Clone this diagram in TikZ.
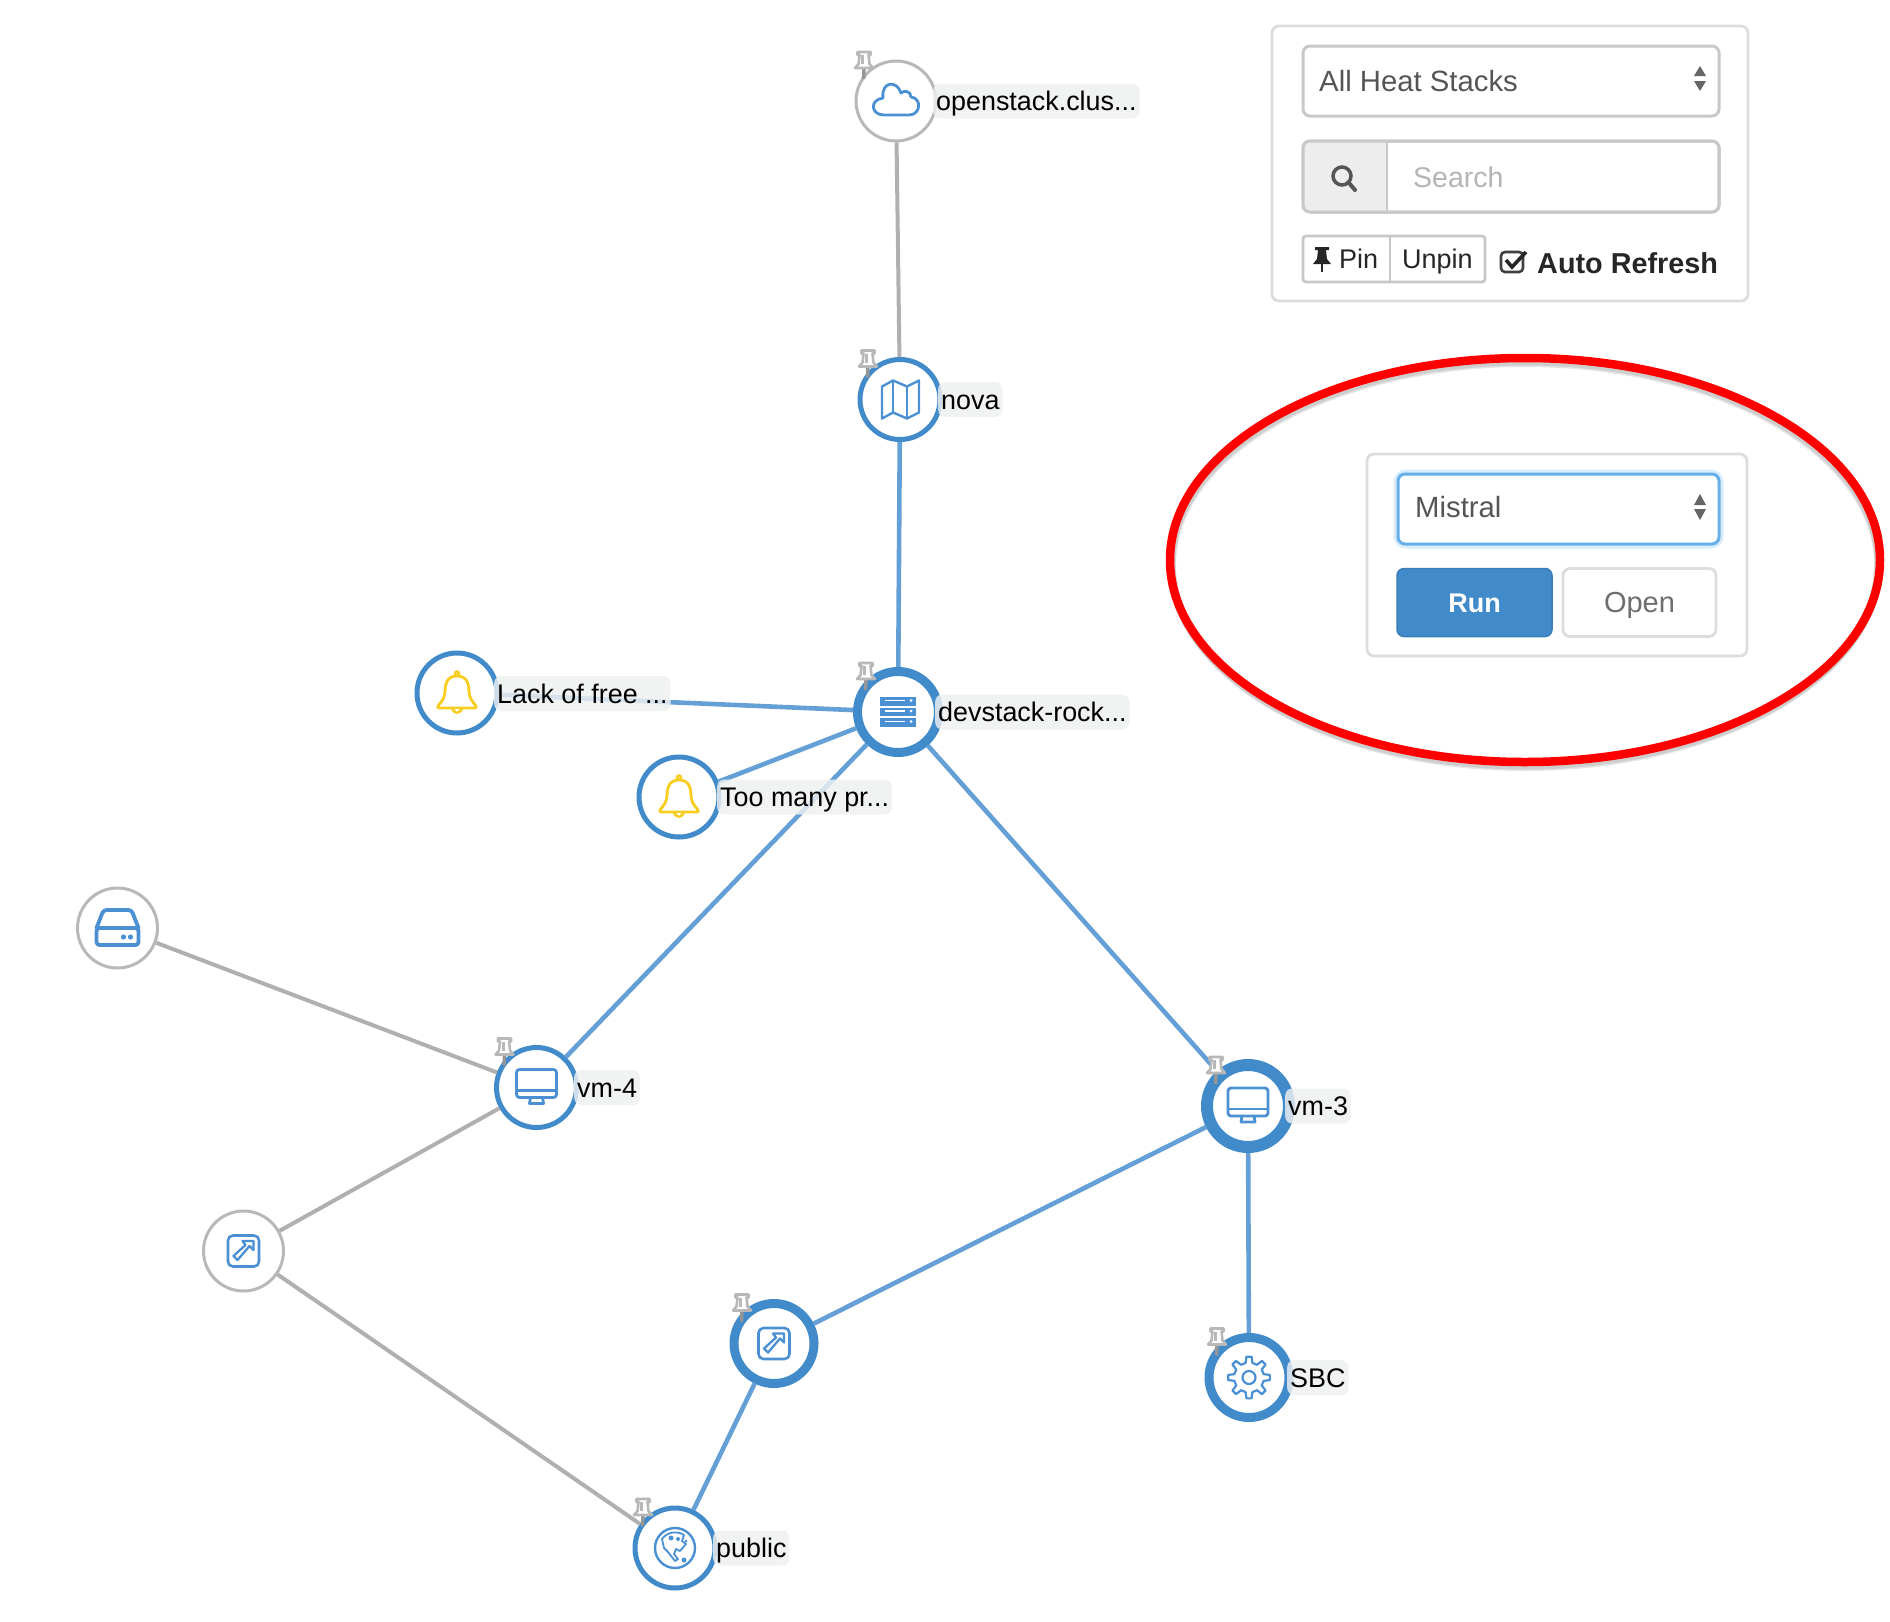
\documentclass[tikz,border=0pt]{standalone}
\usepackage{fontspec}
\setmainfont{Liberation Sans}
\usetikzlibrary{shapes.geometric}
\definecolor{ringblue}{HTML}{428BCA}
\definecolor{edgeblue}{HTML}{64A0D6}
\definecolor{edgegray}{HTML}{B0B0B0}
\definecolor{ringgray}{HTML}{B8B8B8}
\definecolor{iconblue}{HTML}{4A90D2}
\definecolor{bellyellow}{HTML}{F8CE1E}
\definecolor{labelbg}{HTML}{EEF0F0}
\definecolor{uiborder}{HTML}{C8C8C8}
\definecolor{panelborder}{HTML}{DDDDDD}
\definecolor{uitext}{HTML}{555555}
\definecolor{placeholder}{HTML}{B5B5B5}
\definecolor{runblue}{HTML}{428BCA}
\definecolor{focusblue}{HTML}{66AFE9}
\definecolor{glowblue}{HTML}{D9ECFB}
\definecolor{markred}{HTML}{FF0000}
\newcommand\fpx[1]{\fontsize{#1}{#1}\selectfont}
\tikzset{
  netnode/.style={circle,fill=white,inner sep=0pt},
  ringgrey/.style={netnode,draw=ringgray,line width=3pt,minimum size=80pt},
  ringthin/.style={netnode,draw=ringblue,line width=5pt,minimum size=80pt},
  ringmid/.style={netnode,draw=ringblue,line width=#1,minimum size=80pt},
  linkblue/.style={draw=edgeblue,line width=4.6pt},
  linkgrey/.style={draw=edgegray,line width=4pt},
  netlabel/.style={anchor=west,fill=labelbg,fill opacity=.82,text opacity=1,rounded corners=7pt,
    inner xsep=3pt,inner ysep=0pt,minimum height=35pt,text height=19.3pt,text depth=0pt,text=black,font=\fpx{26.9}},
  icon/.style={draw=iconblue,line width=2.8pt,line join=round,line cap=round},
  uibox/.style={draw=uiborder,line width=3pt,rounded corners=7pt,fill=white},
  uitextnode/.style={anchor=west,inner sep=0pt,text height=20pt,text depth=0pt},
}
\newcommand\pinat[1]{\begin{scope}[shift={(#1.center)},xshift=-32pt,yshift=36pt]
  \draw[edgegray!85!black,line width=3.4pt] (0,3)--(-.5,14);
  \draw[ringgray,fill=white,line width=2.6pt,line join=round] (-6.5,-13)--(6.5,-13)--(6.5,-10)--(4.5,-10)--(5.5,-1)--(9,3)--(-9,3)--(-5.5,-1)--(-4.5,-10)--(-6.5,-10)--cycle;
  \draw[ringgray,line width=3pt] (-1.5,-10)--(-1.5,-1);
\end{scope}}
\newcommand\iconmonitor[1]{\begin{scope}[shift={(#1.center)}]
  \draw[icon,rounded corners=3pt] (-20,-18) rectangle (20,10);
  \draw[icon] (-20,3)--(20,3);
  \draw[icon] (-6,10)--(-7,16)--(7,16)--(6,10);
\end{scope}}
\newcommand\iconserver[1]{\begin{scope}[shift={(#1.center)}]
  \foreach \yy in {-15,-4.5,6}{
    \fill[iconblue] (-18,\yy) rectangle (18,\yy+8.5);
    \draw[white,line width=1.6pt] (-13,\yy+3.5)--(7,\yy+3.5);
    \fill[white] (13,\yy+3.5) circle (1.5);
  }
\end{scope}}
\newcommand\iconmap[1]{\begin{scope}[shift={(#1.center)}]
  \draw[icon,line width=2.4pt] (-18,-13)--(-7,-19)--(7,-13)--(19,-19)--(19,13)--(7,19)--(-7,13)--(-18,19)--cycle;
  \draw[icon,line width=2.4pt] (-7,-19)--(-7,13) (7,-13)--(7,19);
\end{scope}}
\newcommand\iconcloud[1]{\begin{scope}[shift={(#1.center)}]
  \draw[icon] (-12,14)--(13,14) .. controls (25,14) and (26,-3) .. (15,-4) .. controls (15,-10) and (8,-11) .. (5,-8) .. controls (1,-21) and (-15,-20) .. (-13,-3) .. controls (-27,-1) and (-25,14) .. (-12,14) -- cycle;
\end{scope}}
\newcommand\iconbell[1]{\begin{scope}[shift={(#1.center)}]
  \draw[draw=bellyellow,line width=2.8pt,line join=round,line cap=round]
    (0,-17) .. controls (-10,-17) and (-12,-9) .. (-12,-2) .. controls (-12,5) and (-15,8) .. (-19,13)
    .. controls (-20,15) and (-19,15) .. (-17,15) -- (17,15) .. controls (19,15) and (20,15) .. (19,13)
    .. controls (15,8) and (12,5) .. (12,-2) .. controls (12,-9) and (10,-17) .. (0,-17) -- cycle;
  \draw[draw=bellyellow,line width=2.5pt] (0,-19.5) circle (2);
  \fill[bellyellow] (-6,15) .. controls (-5,23) and (5,23) .. (6,15) -- cycle;
  \fill[white] (-3,16) -- (3,16) -- (0,18.5) -- cycle;
\end{scope}}
\newcommand\icondisk[1]{\begin{scope}[shift={(#1.center)}]
  \draw[icon,line width=3.8pt,rounded corners=3pt] (-21,0) rectangle (21,17);
  \draw[icon,line width=3.8pt,rounded corners=3pt] (-21,0)--(-14,-18)--(14,-18)--(21,0);
  \fill[iconblue] (6,9) circle (2.6) (13,9) circle (2.6);
\end{scope}}
\newcommand\iconlink[1]{\begin{scope}[shift={(#1.center)}]
  \draw[icon,line width=2.6pt,rounded corners=5pt] (-15.5,-15.5) rectangle (15.5,15.5);
  \draw[icon,line width=2.3pt] (10,-10)--(10,-1)--(6,-5)--(-6,9)--(-10,5)--(2,-6)--(-1,-10)--cycle;
\end{scope}}
\newcommand\icongear[1]{\begin{scope}[shift={(#1.center)}]
  \draw[icon,line width=2.2pt] (-13:15) \foreach \aa in {0,45,...,315}{ -- (\aa-13:15) -- (\aa-7:21) -- (\aa+7:21) -- (\aa+13:15)} -- cycle;
  \draw[icon,line width=2.2pt] (0,0) circle (6.5);
\end{scope}}
\newcommand\iconglobe[1]{\begin{scope}[shift={(#1.center)}]
  \draw[icon,line width=2.4pt] (0,0) circle (20);
  \draw[icon,line width=1.8pt] (-13,-9) .. controls (-7,-17) and (3,-17) .. (9,-13) -- (7,-7) -- (11,-4) -- (5,3) -- (1,1) -- (-1,6) -- (3,11) -- (0,13) -- (-7,4) -- (-11,0) -- cycle;
  \fill[iconblue] (-4,-10) circle (2.5) (3,-9) circle (2) (9,12) circle (2.5) (11,-7) circle (1.5);
\end{scope}}
\begin{document}
\begin{tikzpicture}[x=1pt,y=-1pt]
\useasboundingbox (0,0) rectangle (1890,1622);
% network nodes
\node[ringgrey] (openstack) at (896,101) {};
\node[ringthin] (nova) at (900,399.5) {};
\node[ringmid=9pt,minimum size=81pt] (devstack) at (898,712) {};
\node[ringthin] (lack) at (457,693) {};
\node[ringthin] (toomany) at (679,797) {};
\node[ringgrey] (disk) at (117.5,928) {};
\node[ringthin] (vmfour) at (536.5,1087.5) {};
\node[ringmid=12pt,minimum size=82pt] (vmthree) at (1248,1106) {};
\node[ringgrey] (floatgrey) at (243.5,1251) {};
\node[ringmid=9pt,minimum size=80pt] (floatblue) at (774,1343.5) {};
\node[ringthin] (public) at (675,1548) {};
\node[ringmid=9pt,minimum size=80pt] (sbc) at (1249,1377.5) {};
% connectors
\draw[linkgrey] (openstack)--(nova);
\draw[linkblue] (nova)--(devstack);
\draw[linkblue] (lack)--(devstack);
\draw[linkblue] (toomany)--(devstack);
\draw[linkblue] (devstack)--(vmfour);
\draw[linkblue] (devstack)--(vmthree);
\draw[linkgrey] (disk)--(vmfour);
\draw[linkgrey] (floatgrey)--(vmfour);
\draw[linkgrey] (floatgrey)--(public);
\draw[linkblue] (vmthree)--(floatblue);
\draw[linkblue] (vmthree)--(sbc);
\draw[linkblue] (floatblue)--(public);
% icons
\iconcloud{openstack}\iconmap{nova}\iconserver{devstack}\iconbell{lack}\iconbell{toomany}
\icondisk{disk}\iconmonitor{vmfour}\iconmonitor{vmthree}\iconlink{floatgrey}\iconlink{floatblue}
\iconglobe{public}\icongear{sbc}
% labels
\node[netlabel] (lopenstack) at (933,101) {openstack.clus...};
\node[netlabel] (lnova) at (938,399.5) {nova};
\node[netlabel] (ldevstack) at (935,712) {devstack-rock...};
\node[netlabel] (llack) at (494,693.5) {Lack of free ...};
\node[netlabel] (ltoomany) at (717,797) {Too many pr...};
\node[netlabel] (lvmfour) at (574,1087.5) {vm-4};
\node[netlabel] (lvmthree) at (1285,1106) {vm-3};
\node[netlabel] (lsbc) at (1287,1377.5) {SBC};
\node[netlabel] (lpublic) at (713,1548) {public};
% pins
\pinat{openstack}\pinat{nova}\pinat{devstack}\pinat{vmfour}\pinat{vmthree}\pinat{floatblue}\pinat{public}\pinat{sbc}
% top panel
\draw[panelborder,line width=2.8pt,rounded corners=7pt,fill=white] (1272,26) rectangle (1748,301);
\draw[uibox] (1303,46) rectangle (1719,116);
\node[uitextnode,font=\fpx{29.3},text=uitext] (heat) at (1319,81.5) {All Heat Stacks};
\fill[uitext!90] (1694,76)--(1700,66)--(1706,76)--cycle;
\fill[uitext!90] (1694,81)--(1700,91)--(1706,81)--cycle;
\draw[uibox] (1303,141) rectangle (1719,212);
\fill[gray!14,rounded corners=7pt] (1387,141)--(1303,141)--(1303,212)--(1387,212)--cycle;
\fill[gray!14] (1370,141) rectangle (1387,212);
\draw[uiborder,line width=3pt,rounded corners=7pt] (1303,141) rectangle (1719,212);
\draw[uiborder,line width=2.5pt] (1387,141)--(1387,212);
\draw[uitext,line width=3.5pt] (1342,176) circle (9);
\draw[uitext,line width=4pt,line cap=round] (1349,183)--(1355,190);
\node[uitextnode,font=\fpx{28.5},text=placeholder] (search) at (1413,177) {Search};
\draw[draw=uiborder,line width=2.8pt,rounded corners=3pt] (1303,236)--(1485,236)--(1485,282)--(1303,282)--cycle;
\draw[uiborder,line width=2.5pt] (1390,236)--(1390,282);
\fill[black!85] (1315,247)--(1329,247)--(1329,250)--(1326,250)--(1327,259)--(1331,264)--(1313,264)--(1317,259)--(1318,250)--(1315,250)--cycle;
\draw[black!85,line width=2.2pt] (1322,264)--(1322,272);
\node[uitextnode,font=\fpx{27},text=black!85,text height=19.5pt] (pin) at (1339,259) {Pin};
\node[uitextnode,font=\fpx{27},text=black!85,text height=19.5pt] (unpin) at (1402,259) {Unpin};
\draw[black!75,line width=2.6pt,rounded corners=4pt] (1501,252) rectangle (1523,272);
\draw[black!85,line width=3.6pt] (1506,260)--(1512,267)--(1526,252);
\node[uitextnode,font=\bfseries\fpx{28.8},text=black!85] (refresh) at (1537,263.5) {Auto Refresh};
% lower panel
\draw[panelborder,line width=2.8pt,rounded corners=7pt,fill=white] (1367,454) rectangle (1747,656);
\draw[glowblue,line width=9pt,rounded corners=8pt] (1398,474) rectangle (1719,544);
\draw[focusblue,line width=3pt,rounded corners=7pt,fill=white] (1398,474) rectangle (1719,544);
\node[uitextnode,font=\fpx{29.3},text=uitext] (mistral) at (1415,507.5) {Mistral};
\fill[uitext!90] (1694,505)--(1700,494)--(1706,505)--cycle;
\fill[uitext!90] (1694,509)--(1700,520)--(1706,509)--cycle;
\node[draw=runblue!90!black,fill=runblue,line width=1.5pt,rounded corners=7pt,minimum width=155pt,minimum height=68pt,inner sep=0pt,text=white,text height=20pt,text depth=0pt,font=\bfseries\fpx{27}] (run) at (1474.5,602.5) {Run};
\node[draw=panelborder,fill=white,line width=2.8pt,rounded corners=7pt,minimum width=153pt,minimum height=68pt,inner sep=0pt,text=uitext!85,text height=20pt,text depth=0pt,font=\fpx{29}] (open) at (1639.5,602.5) {Open};
% red mark with its soft shadow
\draw[black,opacity=.10,line width=9pt] (1525,563) ellipse [x radius=354,y radius=202];
\draw[black,opacity=.10,line width=8pt] (1525,565) ellipse [x radius=353,y radius=202];
\draw[markred,line width=8.5pt] (1525,560) ellipse [x radius=355,y radius=202];
\end{tikzpicture}
\end{document}
